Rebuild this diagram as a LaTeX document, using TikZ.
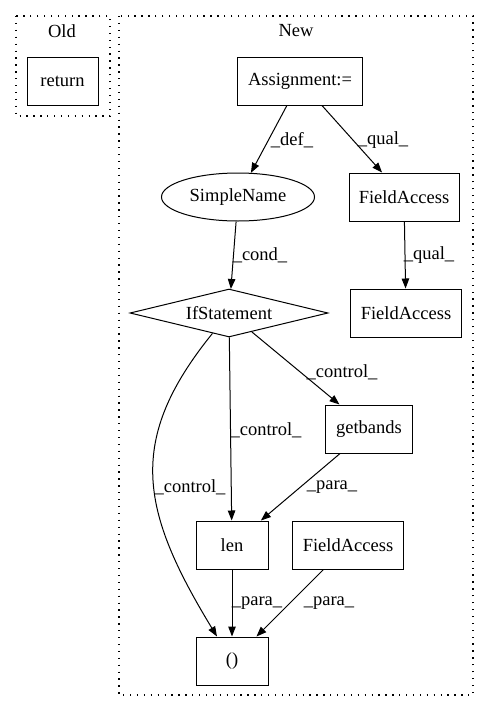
\documentclass[tikz,border=0pt]{standalone}
\usepackage{fontspec}
\setmainfont{Liberation Serif}
\usetikzlibrary{arrows.meta,shapes.geometric}
\begin{document}
\begin{tikzpicture}[x=1pt,y=-1pt,
  every node/.style={font=\fontsize{18.5}{22}\selectfont, inner sep=0pt},
  box/.style={draw, line width=1pt, rectangle},
  cluster/.style={line width=1.3pt, dash pattern=on 1.3pt off 5.6pt},
  edge/.style={line width=1pt, -{Triangle[length=10pt,width=7.5pt]}},
  elabel/.style={fill=none}
]
\useasboundingbox (0,0) rectangle (489,712);
% clusters
\draw[cluster] (16,16) rectangle (110,116);
\draw[cluster] (119,16) rectangle (473,695);
\node (oldlbl) at (62,31) {Old};
\node (newlbl) at (296,31) {New};
% nodes
\node[box, minimum width=71pt, minimum height=48pt] (ret) at (62.5,81) {return};
\node[box, minimum width=125pt, minimum height=48pt] (asg) at (300,81) {Assignment:=};
\node[draw, line width=1pt, ellipse, minimum width=153pt, minimum height=48pt] (sn) at (238,197) {SimpleName};
\node[box, minimum width=110pt, minimum height=48pt] (fa1) at (404,197) {FieldAccess};
\node[draw, line width=1pt, diamond, aspect=4, minimum width=198pt, minimum height=48pt] (ifs) at (229,313) {IfStatement};
\node[box, minimum width=111pt, minimum height=48pt] (fa2) at (406,313) {FieldAccess};
\node[box, minimum width=87pt, minimum height=48pt] (gb) at (369,429) {getbands};
\node[box, minimum width=72pt, minimum height=48pt] (len) at (232,545) {len};
\node[box, minimum width=111pt, minimum height=48pt] (fa3) at (348,545) {FieldAccess};
\node[box, minimum width=72pt, minimum height=48pt] (par) at (232,661) {()};
% edges
\draw[edge] (asg) -- (sn);
\draw[edge] (asg) -- (fa1);
\draw[edge] (sn) -- (ifs);
\draw[edge] (fa1) -- (fa2);
\draw[edge] (ifs) -- (gb);
\draw[edge] (ifs) -- (len);
\draw[edge] (ifs.231) .. controls (126,440) and (140,510) .. ([xshift=-15pt]par.north);
\draw[edge] (gb) -- (len);
\draw[edge] (len) -- (par);
\draw[edge] (fa3) -- (par);
% edge labels
\node (l1) at (292,140) {\_def\_};
\node (l2) at (383,140) {\_qual\_};
\node (l3) at (260,255) {\_cond\_};
\node (l4) at (429,255) {\_qual\_};
\node (l5) at (342,372) {\_control\_};
\node (l6) at (266,430) {\_control\_};
\node (l7) at (190,487) {\_control\_};
\node (l8) at (332,487) {\_para\_};
\node (l9) at (257,603) {\_para\_};
\node (l10) at (329,603) {\_para\_};
\end{tikzpicture}
\end{document}
